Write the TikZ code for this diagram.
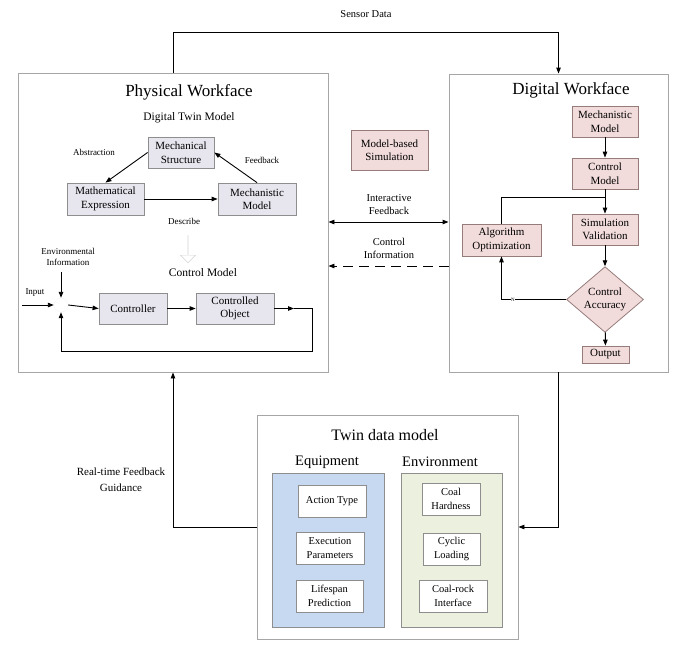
\documentclass[tikz,border=0pt]{standalone}
\usepackage{fontspec}
\setmainfont{Liberation Serif}
\usetikzlibrary{arrows.meta, calc, shapes.geometric, shapes.arrows}
\definecolor{phyfill}{HTML}{E7E6EF}
\definecolor{phyline}{HTML}{8E8E8E}
\definecolor{digfill}{HTML}{F2DCDB}
\definecolor{digline}{HTML}{957C7B}
\definecolor{eqfill}{HTML}{C6D9F0}
\definecolor{envfill}{HTML}{EBF1DE}
\definecolor{frameline}{HTML}{A6A6A6}
\tikzset{
  frame/.style={draw=frameline, line width=0.9pt, inner sep=0pt},
  pbox/.style={draw=phyline, fill=phyfill, line width=0.8pt, align=center, inner sep=0pt,
    font=\fontsize{11}{13.5}\selectfont},
  dbox/.style={draw=digline, fill=digfill, line width=0.8pt, align=center, inner sep=0pt,
    font=\fontsize{11}{13.5}\selectfont},
  tbox/.style={draw=phyline, fill=white, line width=0.8pt, align=center, inner sep=0pt,
    font=\fontsize{10.5}{13.5}\selectfont},
  lbl/.style={align=center, inner sep=0pt, font=\fontsize{10.5}{13}\selectfont},
  small/.style={align=center, inner sep=0pt, font=\fontsize{9}{11.5}\selectfont},
  tip/.style={-{Triangle[length=6pt,width=4.5pt]}},
  conn/.style={line width=0.9pt}
}
\begin{document}
\begin{tikzpicture}[x=1pt, y=-1pt]
\useasboundingbox (0,0) rectangle (680,651);
% outer frames
\node[frame, minimum width=310, minimum height=299] (phys) at (173,222.5) {};
\node[frame, minimum width=219, minimum height=298] (dig) at (558.5,223) {};
\node[frame, minimum width=261, minimum height=224] (twin) at (387.5,527) {};

% physical workface
\node[inner sep=0pt, font=\fontsize{17}{20}\selectfont] (phystitle) at (189,92) {Physical Workface};
\node[lbl, font=\fontsize{11.5}{14}\selectfont] (dtmlbl) at (189,118) {Digital Twin Model};
\node[pbox, minimum width=66, minimum height=31] (mstruct) at (181,152.5) {Mechanical\\Structure};
\node[pbox, minimum width=77, minimum height=32] (mexpr) at (105.5,199) {Mathematical\\Expression};
\node[pbox, minimum width=78, minimum height=32] (mmodel) at (257,199) {Mechanistic\\Model};
\node[small] (abstrlbl) at (94,152) {Abstraction};
\node[small] (fblbl) at (262,160) {Feedback};
\node[small] (desclbl) at (184,221) {Describe};
\node[single arrow, draw=gray!35, fill=white, rotate=-90, inner sep=0pt,
  minimum height=27, minimum width=15, single arrow head extend=3pt] (descarrow) at (188,249) {};
\node[lbl, font=\fontsize{11.5}{14}\selectfont] (cmlbl) at (203,273) {Control Model};
\node[small] (envlbl) at (68,257) {Environmental\\Information};
\node[small] (inplbl) at (35,293) {Input};
\node[circle, fill=white, draw=gray!8, minimum size=14, inner sep=0pt] (sum) at (61,305) {};
\node[pbox, minimum width=68, minimum height=31] (ctrl) at (133,308.5) {Controller};
\node[pbox, minimum width=78, minimum height=31] (cobj) at (235,308.5) {Controlled\\Object};
\coordinate (inp) at (22,305);
\coordinate (objout) at (294,308.5);
\coordinate (loopr) at (312,351);

\draw[conn, tip] (mstruct.west) -- (mexpr.north);
\draw[conn, tip] (mmodel.north) -- (mstruct.east);
\draw[conn, tip] (mexpr) -- (mmodel);
\draw[conn, tip] (inp) -- (sum.west);
\draw[conn, tip] (envlbl.south -| sum) ++(0,6) -- (sum.north);
\draw[conn, tip] (sum.east) -- (ctrl.west);
\draw[conn, tip] (ctrl) -- (cobj);
\draw[conn, tip] (cobj.east) -- (objout);
\draw[conn, tip] (objout) -| (loopr) -| (sum.south);

% digital workface
\node[inner sep=0pt, font=\fontsize{17}{20}\selectfont] (digtitle) at (571,90) {Digital Workface};
\node[dbox, minimum width=66, minimum height=31] (dmech) at (605,121.5) {Mechanistic\\Model};
\node[dbox, minimum width=66, minimum height=31] (dctrl) at (605,173.5) {Control\\Model};
\node[dbox, minimum width=66, minimum height=31] (simval) at (605,229.5) {Simulation\\Validation};
\node[dbox, minimum width=79, minimum height=32] (algo) at (501.5,240) {Algorithm\\Optimization};
\node[diamond, draw=digline, fill=digfill, line width=0.8pt, align=center, inner sep=0pt,
  minimum width=77, minimum height=55, font=\fontsize{11}{13.5}\selectfont] (acc) at (605,299.5) {Control\\Accuracy};
\node[dbox, minimum width=47, minimum height=17] (outp) at (605.5,354.5) {Output};
\coordinate (branch) at (605,197);

\draw[conn, tip] (dmech) -- (dctrl);
\draw[conn, tip] (dctrl) -- (simval);
\draw[conn] (branch) -| (algo.north);
\draw[conn, tip] (simval) -- (acc);
\draw[conn, tip] (acc.west) -| (algo.south);
\node[inner sep=0.5pt, fill=white, font=\fontsize{5}{6}\selectfont] (nlbl) at (513,299.5) {N};
\draw[conn, tip] (acc) -- (outp);

% between the two workfaces
\node[dbox, minimum width=77, minimum height=40] (mbsim) at (389.5,150) {Model-based\\Simulation};
\node[lbl] (iflbl) at (389,205) {Interactive\\Feedback};
\node[lbl] (cilbl) at (389,248) {Control\\Information};
\draw[conn, {Triangle[length=6pt,width=4.5pt]}-{Triangle[length=6pt,width=4.5pt]}]
  (phys.east |- 0,222) -- (dig.west |- 0,222);
\draw[conn, tip, dash pattern=on 10pt off 6pt] (dig.west |- 0,266) -- (phys.east |- 0,266);

% sensor data
\node[lbl] (senslbl) at (366,14) {Sensor Data};
\coordinate (senstop) at (0,32);
\draw[conn, tip] (phys.north) -- (phys.north |- senstop) -| (dig.north);

% twin data model
\node[inner sep=0pt, font=\fontsize{16}{19}\selectfont] (twintitle) at (385,435) {Twin data model};
\node[inner sep=0pt, font=\fontsize{14.5}{17}\selectfont] (eqtitle) at (327,462) {Equipment};
\node[inner sep=0pt, font=\fontsize{14.5}{17}\selectfont] (envtitle) at (440,462) {Environment};
\node[draw=phyline, fill=eqfill, line width=0.8pt, minimum width=112, minimum height=154, inner sep=0pt] (eqpanel) at (328,550) {};
\node[draw=phyline, fill=envfill, line width=0.8pt, minimum width=101, minimum height=154, inner sep=0pt] (envpanel) at (451.5,550) {};
\node[tbox, minimum width=68, minimum height=32] (acttype) at (332,501) {Action Type};
\node[tbox, minimum width=68, minimum height=32] (execpar) at (330,548) {Execution\\Parameters};
\node[tbox, minimum width=67, minimum height=32] (lifepred) at (329.5,596) {Lifespan\\Prediction};
\node[tbox, minimum width=58, minimum height=32] (coalhard) at (451,499) {Coal\\Hardness};
\node[tbox, minimum width=57, minimum height=32] (cyclic) at (451.5,549) {Cyclic\\Loading};
\node[tbox, minimum width=68, minimum height=32] (coalrock) at (453,596) {Coal-rock\\Interface};

\node[lbl, font=\fontsize{11}{16}\selectfont] (rtlbl) at (121,480) {Real-time Feedback\\Guidance};
\draw[conn, tip] (twin.west) -| (phys.south);
\draw[conn, tip] (dig.south) |- (twin.east);
\end{tikzpicture}
\end{document}
